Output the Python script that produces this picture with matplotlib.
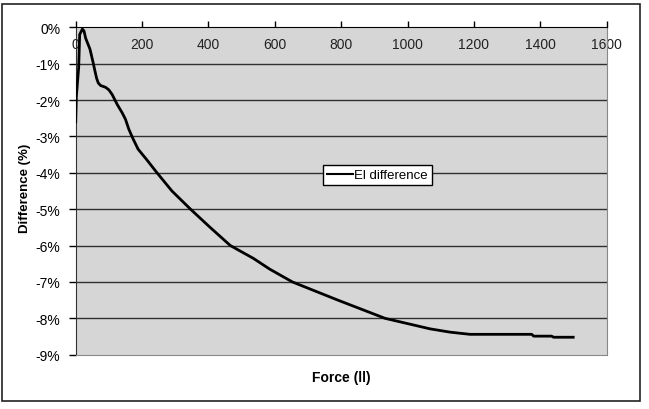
import matplotlib
matplotlib.use("Agg")
import matplotlib.pyplot as plt
from matplotlib.patches import Rectangle

# Data (force, difference in %)
force = [0, 2, 9, 12, 20, 25, 30, 43, 52, 58, 63, 68, 75, 90, 100, 110, 125,
         140, 150, 160, 172, 188, 215, 245, 290, 346, 405, 466, 535, 585, 653,
         790, 932, 1068, 1128, 1188, 1374, 1380, 1434, 1440, 1499]
diff = [-2.6, -1.9, -1.1, -0.2, -0.05, -0.1, -0.3, -0.6, -0.95, -1.2, -1.4,
        -1.53, -1.6, -1.65, -1.72, -1.85, -2.12, -2.35, -2.53, -2.8, -3.05,
        -3.35, -3.65, -4.0, -4.5, -5.0, -5.5, -6.0, -6.35, -6.65, -7.0, -7.5,
        -8.0, -8.29, -8.38, -8.44, -8.44, -8.49, -8.49, -8.52, -8.52]

x_ticks = [0, 200, 400, 600, 800, 1000, 1200, 1400, 1600]
y_ticks = [0, -1, -2, -3, -4, -5, -6, -7, -8, -9]
y_tick_labels = ["0%", "-1%", "-2%", "-3%", "-4%", "-5%", "-6%", "-7%", "-8%", "-9%"]

plt.rcParams['font.family'] = ['Liberation Sans', 'DejaVu Sans']

W, H = 649, 410
fig = plt.figure(figsize=(W / 100, H / 100), dpi=100)

# outer chart border
fig.patches.append(Rectangle((2 / W, 1 - 402 / H), 638 / W, 397 / H,
                             transform=fig.transFigure, fill=False,
                             edgecolor='#222222', linewidth=1.2))

# plot area in pixels: left 75.7, right 606.7, top 28.3, bottom 355.7
ax = fig.add_axes([75.7 / W, 1 - 355.7 / H, 531 / W, 327.4 / H])
ax.set_facecolor('#d6d6d6')

ax.plot(force, diff, color='black', linewidth=2, label='El difference',
        zorder=3)

ax.set_xlim(0, 1600)
ax.set_ylim(-9, 0)
ax.set_xticks(x_ticks)
ax.set_yticks(y_ticks)
ax.set_yticklabels(y_tick_labels)

# horizontal gridlines
for v in y_ticks[1:-1]:
    ax.axhline(v, color='#303030', linewidth=1, zorder=1)

# x axis sits at 0% (top), labels below the line
ax.xaxis.tick_top()
ax.tick_params(axis='x', direction='out', length=4, width=1, pad=-21,
               labelsize=10, colors='black')
ax.tick_params(axis='y', direction='out', length=5, width=1, pad=6,
               labelsize=10)
for lbl in ax.get_xticklabels():
    lbl.set_color('#222222')

ax.spines['top'].set_color('black')
ax.spines['left'].set_color('#333333')
ax.spines['right'].set_color('#888888')
ax.spines['bottom'].set_color('#888888')

fig.text(341 / W, 1 - 378 / H, 'Force (ll)', ha='center', va='center',
         fontsize=10, fontweight='bold')
fig.text(25.5 / W, 1 - 188 / H, 'Difference (%)', ha='center', va='center',
         rotation=90, fontsize=9.5, fontweight='bold')

leg = ax.legend(loc='upper left', bbox_to_anchor=(322.7 / W, 1 - 166 / H),
                bbox_transform=fig.transFigure, borderaxespad=0,
                fancybox=False, framealpha=1, edgecolor='black',
                fontsize=9.5, handlelength=2.0, handletextpad=0.1,
                borderpad=0.3)
leg.get_frame().set_linewidth(1)
leg.get_lines()[0].set_linewidth(1.5)

fig.savefig('out.png', dpi=100)
